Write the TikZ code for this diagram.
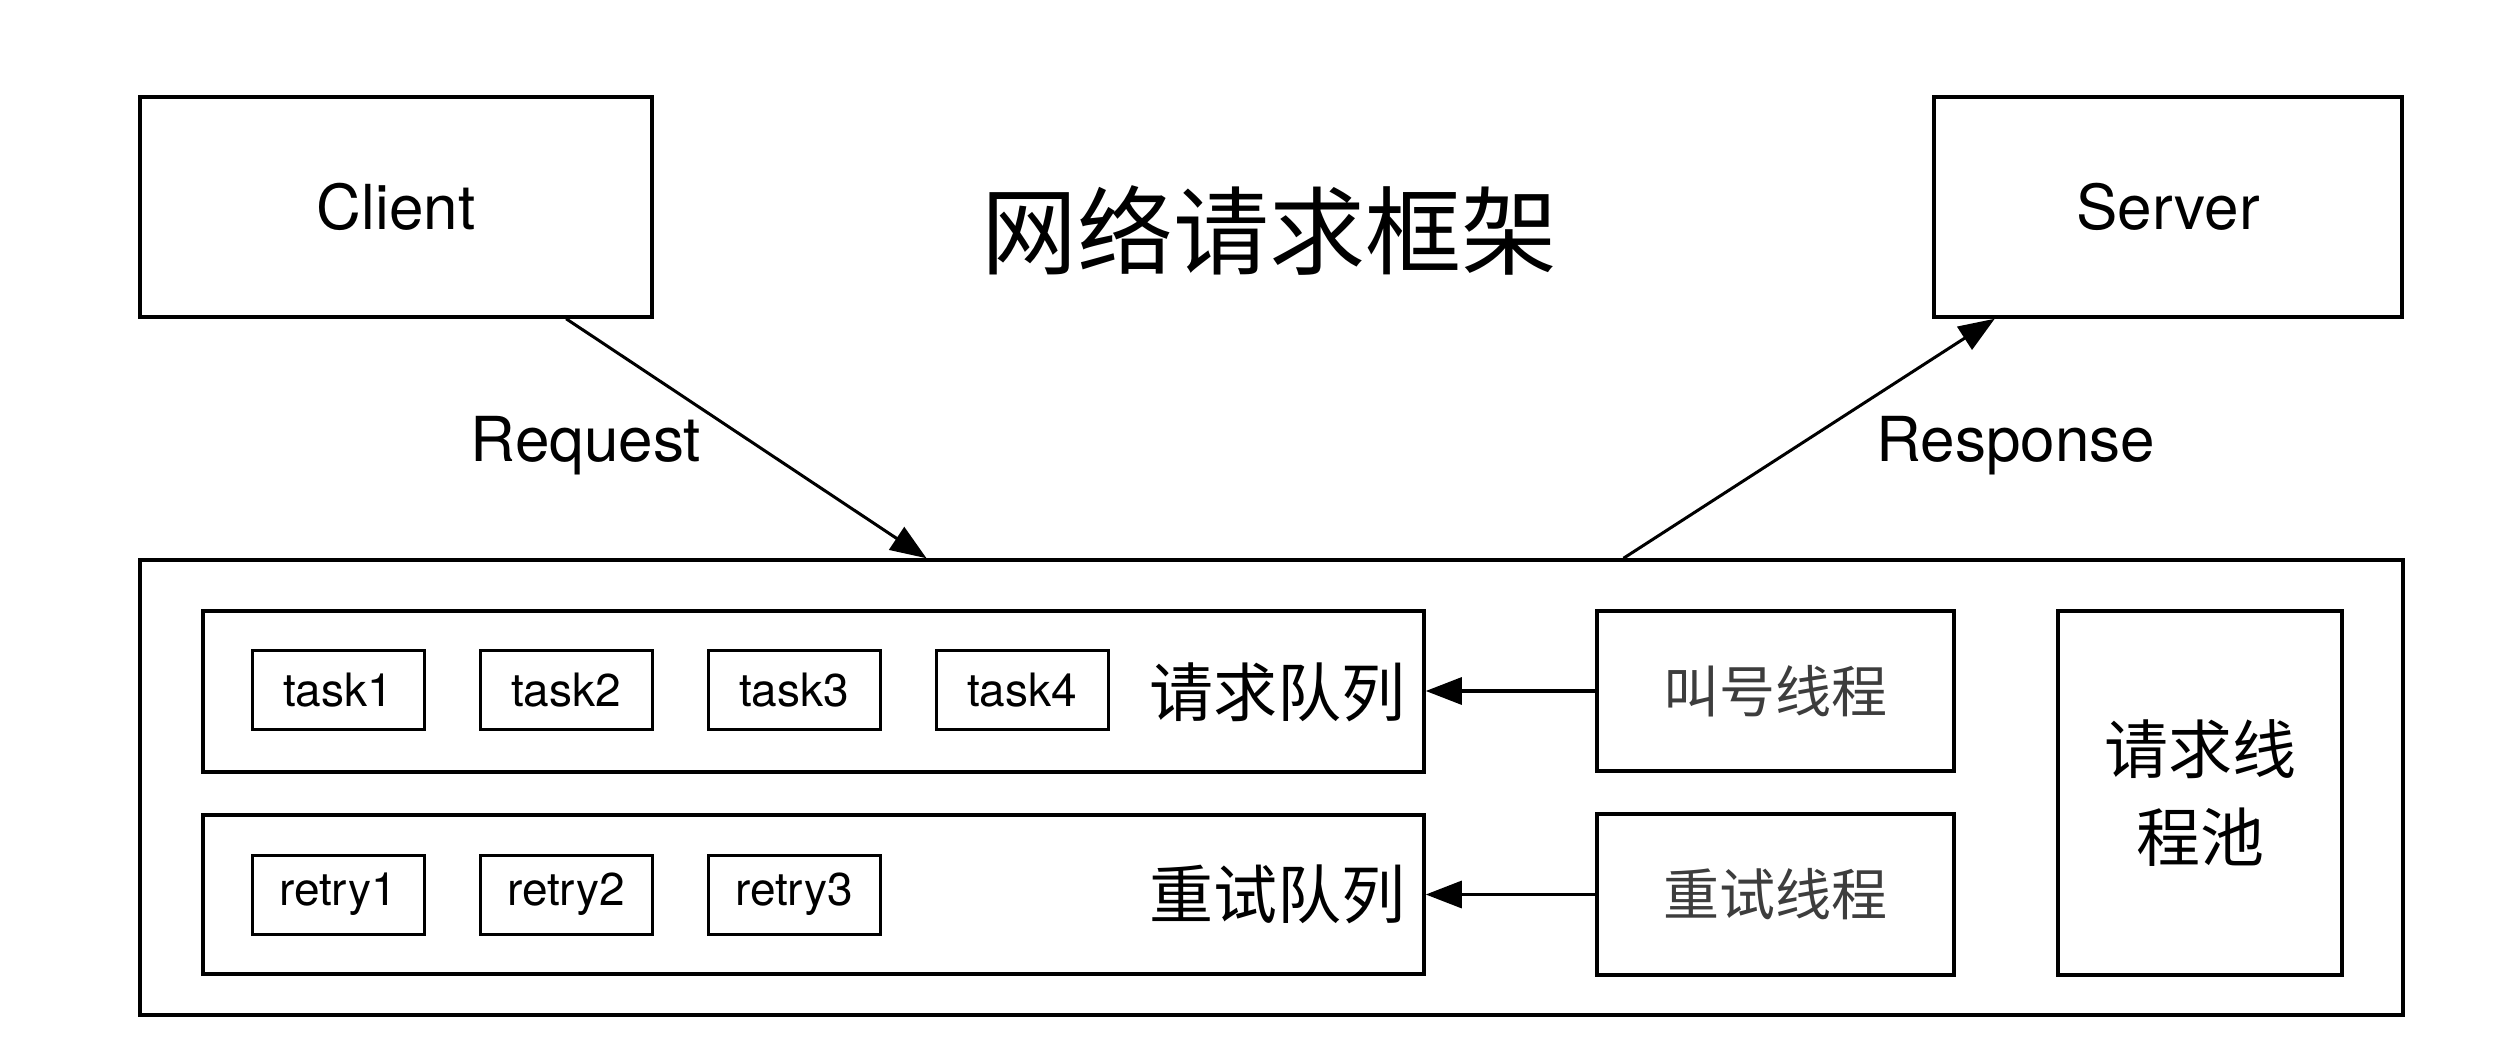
\documentclass[tikz,border=0pt]{standalone}
\usepackage{fontspec}
\setmainfont{TeX Gyre Heros}
\newfontfamily\cjk{Noto Sans CJK SC}
\usetikzlibrary{arrows.meta,calc}
\tikzset{
  box/.style={draw, line width=3.5pt, inner sep=0pt},
  smallbox/.style={draw, line width=3pt, inner sep=0pt, minimum width=172pt, minimum height=79pt, font=\fontsize{46}{54}\selectfont},
  lbl/.style={inner sep=0pt, font=\fontsize{62}{72}\selectfont},
  cjklbl/.style={inner sep=0pt, font=\cjk\fontsize{64}{88}\selectfont, align=center},
  thrlbl/.style={inner sep=0pt, font=\cjk\fontsize{56}{66}\selectfont, text=black!76},
  arr/.style={line width=3.2pt, -{Triangle[length=36pt,width=27pt]}},
  arrthin/.style={line width=3pt, -{Triangle[length=36pt,width=27pt]}}
}
\begin{document}
\begin{tikzpicture}[x=1pt,y=-1pt]
\useasboundingbox (0,0) rectangle (2514,1062);
% top row
\node[box, minimum width=512pt, minimum height=220pt, font=\fontsize{62}{72}\selectfont] (client) at (396,207) {Client};
\node[box, minimum width=468pt, minimum height=220pt, font=\fontsize{62}{72}\selectfont] (server) at (2168,207) {Server};
\node[inner sep=0pt, font=\cjk\fontsize{96}{110}\selectfont] (title) at (1269,230) {网络请求框架};
% outer frame
\node[box, minimum width=2263pt, minimum height=455pt] (outer) at (1271.5,787.5) {};
% queues
\node[box, minimum width=1221pt, minimum height=161pt] (reqq) at (813.5,691.5) {};
\node[box, minimum width=1221pt, minimum height=159pt] (retq) at (813.5,894.5) {};
\node[cjklbl] (reqlbl) at (1277,692) {请求队列};
\node[cjklbl] (retlbl) at (1277,894) {重试队列};
\node[smallbox] (t1) at (338,690) {task1};
\node[smallbox] (t2) at (566,690) {task2};
\node[smallbox] (t3) at (794,690) {task3};
\node[smallbox] (t4) at (1022,690) {task4};
\node[smallbox] (r1) at (338,894.5) {retry1};
\node[smallbox] (r2) at (566,894.5) {retry2};
\node[smallbox] (r3) at (794,894.5) {retry3};
% threads
\node[box, minimum width=357pt, minimum height=160pt] (callthr) at (1775.5,691) {};
\node[thrlbl] at (callthr.center) {叫号线程};
\node[box, minimum width=357pt, minimum height=161pt] (retthr) at (1775.5,894.5) {};
\node[thrlbl] at (retthr.center) {重试线程};
\node[box, minimum width=284pt, minimum height=364pt, font=\cjk\fontsize{64}{88}\selectfont, align=center] (pool) at (2200,793) {请求线\\程池};
% arrows
\draw[arr] (callthr.west) -- (reqq.east |- callthr.west);
\draw[arr] (retthr.west) -- (retq.east |- retthr.west);
\draw[arrthin] ($(client.south west)!0.83!(client.south east)$) -- ($(outer.north west)!0.3478!(outer.north east)$);
\draw[arrthin] ($(outer.north west)!0.6553!(outer.north east)$) -- ($(server.south west)!0.1325!(server.south east)$);
\node[lbl] (reqtext) at (586,446) {Request};
\node[lbl] (resptext) at (2016,446) {Response};
\end{tikzpicture}
\end{document}
